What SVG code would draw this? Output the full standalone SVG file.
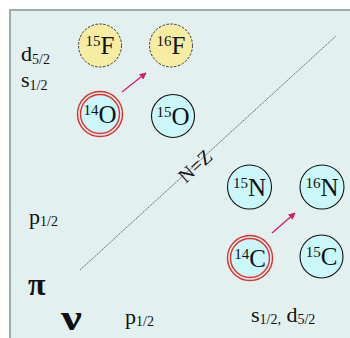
<svg xmlns="http://www.w3.org/2000/svg" width="350" height="338" viewBox="0 0 350 338" font-family="'Liberation Serif', 'Times New Roman', serif">
<style>
text{font-family:'Liberation Serif','Times New Roman',serif;fill:#111;}
.sym{font-size:25px;}
.sup{font-size:15px;}
.f{fill:#f7eca2;stroke:#333;stroke-width:1;stroke-dasharray:2.5,1.5;}
.n{fill:#c9f7fa;stroke:#111;stroke-width:1.1;}
.r{fill:none;stroke:#e0302c;stroke-width:1.4;}
.arr{stroke:#d21b6b;stroke-width:1.3;fill:none;}
</style>
<defs>
<marker id="ah" viewBox="0 0 10 10" refX="9" refY="5" markerWidth="7" markerHeight="7" orient="auto" markerUnits="userSpaceOnUse">
<path d="M0,0 L10,5 L0,10 z" fill="#d21b6b"/>
</marker>
</defs>
<rect x="0" y="0" width="350" height="338" fill="#ffffff"/>
<rect x="10" y="10" width="345" height="335" fill="#e3f0f0" stroke="#9aacac" stroke-width="2"/>
<g id="connectors">
<line x1="80" y1="270" x2="336" y2="36" stroke="#444" stroke-width="0.8" stroke-dasharray="1.5,0.8"/>
<line class="arr" x1="122" y1="92" x2="146" y2="73" marker-end="url(#ah)"/>
<line class="arr" x1="272" y1="233" x2="295" y2="213" marker-end="url(#ah)"/>
<text font-family="Liberation Serif, serif" font-size="20" text-anchor="middle" transform="translate(195,166) rotate(-42.4)" dy="7">N=Z</text>
</g>
<g id="F15"><circle class="f" cx="100" cy="45.5" r="21.5"/><text class="sym" font-family="Liberation Serif, serif" x="100" y="54" text-anchor="middle"><tspan class="sup" dy="-8">15</tspan><tspan dy="8">F</tspan></text></g>
<g id="F16"><circle class="f" cx="171" cy="45.5" r="21.5"/><text class="sym" font-family="Liberation Serif, serif" x="171" y="54" text-anchor="middle"><tspan class="sup" dy="-8">16</tspan><tspan dy="8">F</tspan></text></g>
<g id="O14"><circle class="r" cx="100" cy="114" r="22.5"/><circle cx="100" cy="114" r="19.5" fill="#c9f7fa" stroke="#e0302c" stroke-width="1.4"/><text class="sym" font-family="Liberation Serif, serif" x="100" y="122.5" text-anchor="middle"><tspan class="sup" dy="-8">14</tspan><tspan dy="8">O</tspan></text></g>
<g id="O15"><circle class="n" cx="173" cy="116" r="21.5"/><text class="sym" font-family="Liberation Serif, serif" x="173" y="124.5" text-anchor="middle"><tspan class="sup" dy="-8">15</tspan><tspan dy="8">O</tspan></text></g>
<g id="N15"><circle class="n" cx="249.5" cy="187" r="22"/><text class="sym" font-family="Liberation Serif, serif" x="249.5" y="195.5" text-anchor="middle"><tspan class="sup" dy="-8">15</tspan><tspan dy="8">N</tspan></text></g>
<g id="N16"><circle class="n" cx="322" cy="187" r="22"/><text class="sym" font-family="Liberation Serif, serif" x="322" y="195.5" text-anchor="middle"><tspan class="sup" dy="-8">16</tspan><tspan dy="8">N</tspan></text></g>
<g id="C14"><circle class="r" cx="250" cy="258" r="22.5"/><circle cx="250" cy="258" r="19.5" fill="#c9f7fa" stroke="#e0302c" stroke-width="1.4"/><text class="sym" font-family="Liberation Serif, serif" x="250" y="266.5" text-anchor="middle"><tspan class="sup" dy="-8">14</tspan><tspan dy="8">C</tspan></text></g>
<g id="C15"><circle class="n" cx="321.5" cy="256.5" r="21.5"/><text class="sym" font-family="Liberation Serif, serif" x="321.5" y="265" text-anchor="middle"><tspan class="sup" dy="-8">15</tspan><tspan dy="8">C</tspan></text></g>
<g id="labels" font-family="Liberation Serif, serif">
<text x="21" y="61" font-size="22">d<tspan font-size="14" dy="3">5/2</tspan></text>
<text x="21" y="87" font-size="22">s<tspan font-size="14" dy="3">1/2</tspan></text>
<text x="29" y="224" font-size="22">p<tspan font-size="14" dy="2">1/2</tspan></text>
<text x="28" y="295" font-size="32" font-weight="bold">π</text>
<text x="61" y="330" font-size="36" font-weight="bold" transform="translate(61,330) scale(1.3,1) translate(-61,-330)">ν</text>
<text x="125" y="324" font-size="22">p<tspan font-size="14" dy="2">1/2</tspan></text>
<text x="251" y="322" font-size="22">s<tspan font-size="14" dy="2">1/2,</tspan><tspan dy="-2"> d</tspan><tspan font-size="14" dy="2">5/2</tspan></text>
</g>
</svg>
